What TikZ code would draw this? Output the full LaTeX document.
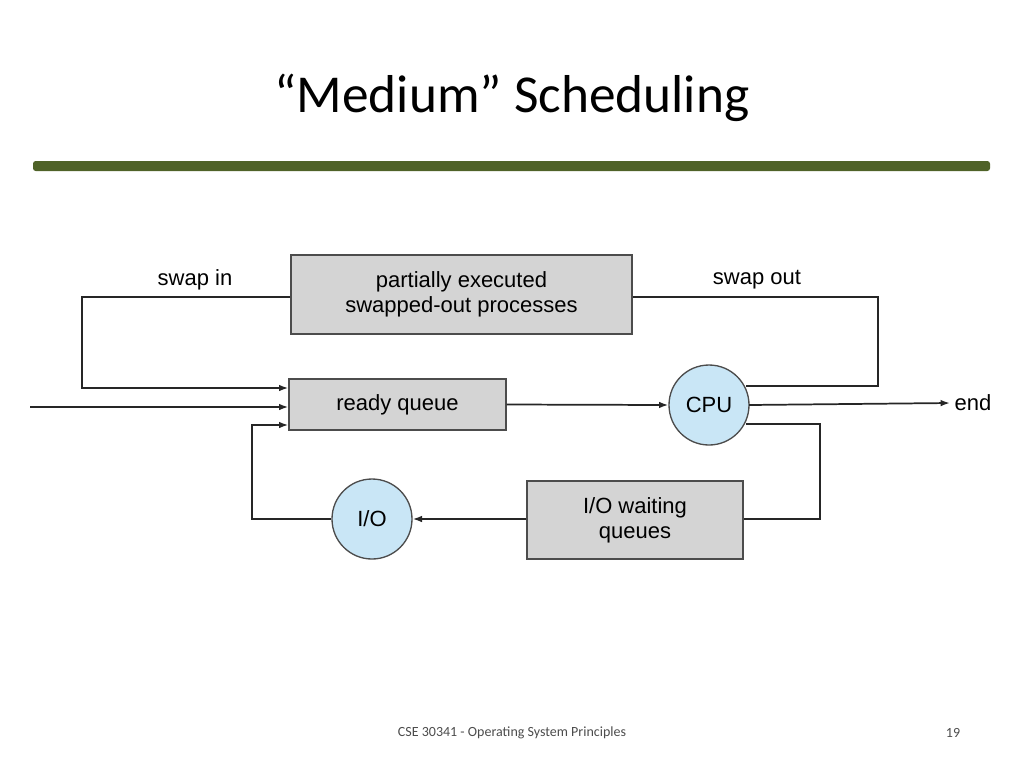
\documentclass[tikz,border=0pt]{standalone}
\usepackage{fontspec}
\setmainfont{Carlito}
\newfontfamily\diag{Liberation Sans}
\usetikzlibrary{arrows.meta}
\definecolor{barg}{HTML}{4F6228}
\definecolor{boxg}{HTML}{D4D4D4}
\definecolor{circb}{HTML}{C9E6F6}
\tikzset{
  gbox/.style={draw=black!70,fill=boxg,line width=1pt,font=\diag\fontsize{16.5}{19}\selectfont,align=center,inner sep=0pt},
  circ/.style={draw=black!70,fill=circb,line width=1pt,circle,minimum size=60pt,font=\diag\fontsize{16.5}{19}\selectfont,inner sep=0pt},
  lab/.style={font=\diag\fontsize{16.5}{19}\selectfont},
  ln/.style={line width=1.3pt,draw=black!85},
  arr/.style={ln,-{Latex[length=7pt,width=5pt]}}
}
\begin{document}
\begin{tikzpicture}[x=0.75pt,y=-0.75pt]
\useasboundingbox (0,0) rectangle (1024,768);
\node[font=\fontsize{40}{48}\selectfont] (title) at (512,98) {“Medium” Scheduling};
\fill[barg,rounded corners=2pt] (33,161) rectangle (990,171);
\node[gbox,minimum width=255.75pt,minimum height=59.25pt] (sw) at (461.5,294.5) {partially executed\\swapped-out processes};
\node[gbox,minimum width=162.75pt,minimum height=38.25pt] (rq) at (397.5,404.5) {ready queue};
\node[gbox,minimum width=162pt,minimum height=58.5pt] (iow) at (635,520) {I/O waiting\\queues};
\node[circ] (cpu) at (709,405) {CPU};
\node[circ] (io) at (372,519) {I/O};
\node[lab] (swin) at (195,280) {swap in};
\node[lab] (swout) at (757,280) {swap out};
\node[lab] (end) at (973,403) {end};
\coordinate (start) at (30,407);
\draw[arr] (sw.west |- 0,297) -- (82,297) -- (82,388) -- (rq.west |- 0,388);
\draw[ln] (sw.east |- 0,297) -- (878,297) -- (878,386) -- (746,386);
\draw[arr] (start) -- (rq.west |- start);
\draw[arr] (rq.east) -- (cpu.west);
\draw[arr] (749,405) -- (end.west);
\draw[ln] (746,424) -- (820,424) -- (820,519) -- (iow.east |- 0,519);
\draw[arr] (iow.west |- 0,519) -- (io.east);
\draw[arr] (io.west) -- (252,519) -- (252,425) -- (rq.west |- 0,425);
\node[font=\fontsize{10.5}{12}\selectfont,text=black!70] (foot) at (512,733) {CSE 30341 - Operating System Principles};
\node[font=\fontsize{10.5}{12}\selectfont,text=black!70] (pg) at (953,733) {19};
\end{tikzpicture}
\end{document}
